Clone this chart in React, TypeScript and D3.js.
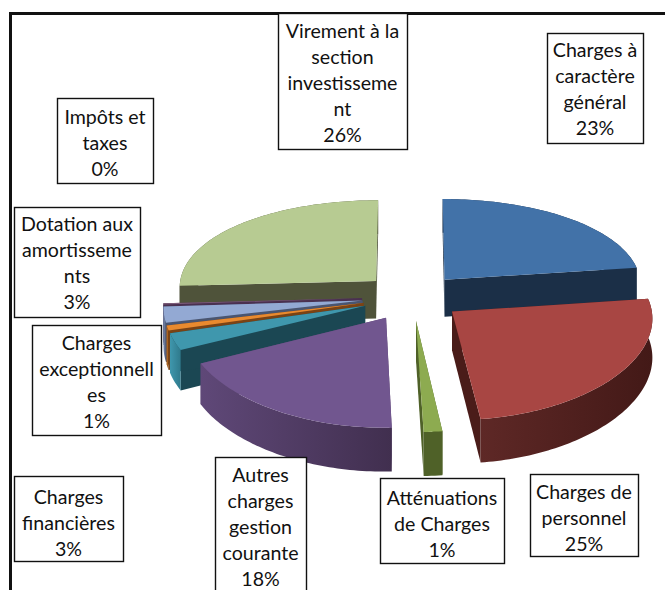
import React from "react";
import * as d3 from "d3";

const width = 665;
const height = 590;

// clockwise from 12 o'clock, as in the spreadsheet
const categories = [
  "Charges à caractère général",
  "Charges de personnel",
  "Atténuations de Charges",
  "Autres charges gestion courante",
  "Charges financières",
  "Charges exceptionnelles",
  "Dotation aux amortissements",
  "Impôts et taxes",
  "Virement à la section investissement",
];
const values = [22.8, 25.2, 1.4, 18.2, 2.8, 0.8, 2.7, 0.2, 25.8];
const labelLines = [
  ["Charges à", "caractère", "général"],
  ["Charges de", "personnel"],
  ["Atténuations", "de Charges"],
  ["Autres", "charges", "gestion", "courante"],
  ["Charges", "financières"],
  ["Charges", "exceptionnell", "es"],
  ["Dotation aux", "amortisseme", "nts"],
  ["Impôts et", "taxes"],
  ["Virement à la", "section", "investisseme", "nt"],
];

const topColors = ["#4272a8", "#a84643", "#8dab50", "#71568f", "#3f97ad", "#e98a2f", "#93a9d3", "#7d5c7a", "#b7cb92"];
const cutColors = ["#1b2f47", "#4a1c19", "#4f6128", "#5b4570", "#1b4753", "#7a4315", "#4a5570", "#4a3050", "#4f533a"];
const wallFrom = ["#1b2f47", "#5e2826", "#4f6128", "#5f4878", "#3f97ad", "#c97a2c", "#7f93b8", "#4a3050", "#4f533a"];
const wallTo = ["#1b2f47", "#431917", "#4f6128", "#412f4f", "#2f7a8c", "#7a4315", "#4a5570", "#4a3050", "#4f533a"];

// boxes: left, top, right, bottom, then the centre of the first text line
const boxes = [
  [547, 33, 643, 143, 50],
  [530, 474, 638, 556, 492],
  [380, 478, 504, 563, 498],
  [215, 457, 306, 600, 475],
  [14, 476, 123, 561, 497],
  [32, 325, 161, 435, 343],
  [14, 207, 140, 317, 224],
  [57, 98, 153, 183, 117],
  [278, 13, 407, 149, 31],
];

const lineStep = 26;
const cx = 412;
const cy = 297;
const radius = 198;
const explode = 50;
const tilt = 0.47;
const perspectiveX = 0.06;
const perspectiveY = 0.11;
const depth = 38;
const drawOrder = [8, 0, 7, 6, 5, 4, 3, 1, 2];

type Pt = [number, number];

const project = (u: number, v: number, z: number): Pt => {
  const px = 1 / (1 - (perspectiveX * v) / radius);
  const py = 1 / (1 - (perspectiveY * v) / radius);
  return [cx + u * px, cy + (tilt * v + z) * py];
};

const pieData = d3.pie<number>().sort(null)(values);
const total = d3.sum(values);
const line = d3.line();

const App = () => {
  const slices = drawOrder.map((i) => {
    const d = pieData[i];
    const mid = (d.startAngle + d.endAngle) / 2;
    const ou = explode * Math.sin(mid);
    const ov = -explode * Math.cos(mid);
    const apex = (z: number) => project(ou, ov, z);
    const rim = (a: number, z: number) =>
      project(ou + radius * Math.sin(a), ov - radius * Math.cos(a), z);
    const steps = Math.max(2, Math.ceil((d.endAngle - d.startAngle) / 0.02));
    const angles = d3.range(steps + 1).map((s) => d.startAngle + ((d.endAngle - d.startAngle) * s) / steps);
    const topRim = angles.map((a) => rim(a, 0));
    const lowRim = angles.map((a) => rim(a, depth));
    return {
      i,
      top: line([apex(0), ...topRim])! + "Z",
      outer: line([...topRim, ...[...lowRim].reverse()])! + "Z",
      cutA: line([apex(0), rim(d.startAngle, 0), rim(d.startAngle, depth), apex(depth)])! + "Z",
      cutB: line([apex(0), rim(d.endAngle, 0), rim(d.endAngle, depth), apex(depth)])! + "Z",
      x0: d3.min(topRim, (p) => p[0])!,
      x1: d3.max(topRim, (p) => p[0])!,
    };
  });

  return (
    <svg
      width={width}
      height={height}
      viewBox={`0 0 ${width} ${height}`}
      style={{ position: "absolute", left: 0, top: 0, display: "block", background: "#fff" }}
    >
      <defs>
        {slices.map((s) => (
          <linearGradient key={s.i} id={`wall-${s.i}`} gradientUnits="userSpaceOnUse" x1={s.x0} x2={s.x1} y1={0} y2={0}>
            <stop offset="0%" stopColor={wallFrom[s.i]} />
            <stop offset="100%" stopColor={wallTo[s.i]} />
          </linearGradient>
        ))}
      </defs>

      <path d="M10.5,590V13.5H665" fill="none" stroke="#111" strokeWidth={3} />

      {slices.map((s) => (
        <g key={s.i}>
          <title>{categories[s.i]}</title>
          <path d={s.cutA} fill={cutColors[s.i]} />
          <path d={s.cutB} fill={cutColors[s.i]} />
          <path d={s.outer} fill={`url(#wall-${s.i})`} />
          <path d={s.top} fill={topColors[s.i]} />
        </g>
      ))}

      {boxes.map(([x0, y0, x1, y1, first], i) => {
        const lines = [...labelLines[i], `${Math.round((values[i] / total) * 100)}%`];
        return (
          <g key={i}>
            <rect x={x0 + 0.5} y={y0 + 0.5} width={x1 - x0} height={y1 - y0} fill="#fff" stroke="#111" strokeWidth={1.4} />
            {lines.map((t, j) => (
              <text
                key={j}
                x={(x0 + x1) / 2}
                y={first + j * lineStep}
                dy="0.35em"
                textAnchor="middle"
                fontFamily="Lato, 'Open Sans', sans-serif"
                fontSize={19.6}
                fill="#111"
              >
                {t}
              </text>
            ))}
          </g>
        );
      })}
    </svg>
  );
};

export default App;
